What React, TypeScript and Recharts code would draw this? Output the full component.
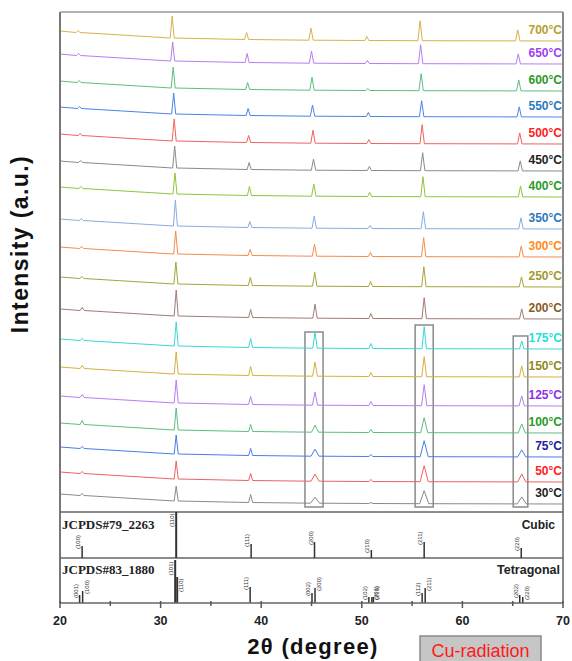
import React from 'react';
import { ComposedChart, Line, XAxis, YAxis, ReferenceLine, ReferenceArea, ReferenceDot } from 'recharts';

// ---------- data ----------
const TEMPS = ['700°C', '650°C', '600°C', '550°C', '500°C', '450°C', '400°C', '350°C', '300°C', '250°C', '200°C', '175°C', '150°C', '125°C', '100°C', '75°C', '50°C', '30°C'];
// stacking offset of each pattern (intensity units, a.u.)
const OFFSET = [562, 539, 512, 486, 459, 432, 406, 374, 346, 316, 284, 254, 226, 197, 170, 146, 121, 99];
// reflection positions (2θ) and background level under each reflection
const PEAK_POS = [22.2, 31.55, 38.95, 45.35, 50.9, 56.2, 65.9];
const PEAK_BASE = [8.5, 3, 1.5, 0.8, 0.5, 0.3, 0.1];
const START_BASE = 10;
const END_BASE = 0;
// peak heights above background: (100) (110) (111) (200) (210) (211) (220)
const HEIGHTS = [
  [2, 22, 7, 12, 4, 20, 11],
  [2, 19, 9, 12, 3, 19, 10],
  [2, 21, 7, 13, 2, 17, 11],
  [2, 21, 7, 11, 4, 16, 10],
  [2, 22, 7, 13, 4, 19, 11],
  [2, 22, 7, 11, 4, 18, 10],
  [2, 21, 9, 12, 4, 20, 11],
  [2, 26, 6, 12, 3, 17, 11],
  [2, 23, 6, 12, 4, 19, 11],
  [2, 22, 8, 14, 5, 20, 10],
  [3, 26, 8, 14, 5, 21, 10],
  [2, 24, 9, 16, 5, 22, 8],
  [3, 22, 9, 14, 4, 20, 11],
  [3, 23, 8, 13, 4, 21, 10],
  [4, 22, 7, 7, 3, 15, 9],
  [2, 19, 7, 7, 2, 16, 7],
  [2, 18, 7, 7, 2, 16, 8],
  [2, 15, 8, 6, 1, 13, 7],
];
// peak shift (2θ) and half width (2θ) of the (200)/(211)/(220) reflections of each pattern
const SHIFT = [-0.4, -0.35, -0.3, -0.25, -0.2, -0.15, -0.12, -0.08, -0.05, -0.03, 0, 0, 0, 0, 0, 0, 0, 0];
const HALF_WIDTH = [0.22, 0.22, 0.22, 0.22, 0.22, 0.22, 0.22, 0.22, 0.22, 0.22, 0.22, 0.22, 0.24, 0.26, 0.35, 0.4, 0.4, 0.45];
const NARROW_WIDTH = 0.2;

// reference cards
const CUBIC_POS = [22.2, 31.55, 39.0, 45.3, 50.95, 56.2, 65.85];
const CUBIC_H = [12, 46, 14, 16, 8, 16, 10];
const CUBIC_HKL = ['(100)', '(110)', '(111)', '(200)', '(210)', '(211)', '(220)'];
const TET_POS = [21.95, 22.25, 31.45, 31.65, 38.9, 45.05, 45.35, 50.7, 51.0, 51.15, 56.0, 56.3, 65.7, 66.0];
const TET_H = [8, 12, 43, 26, 16, 10, 15, 6, 6, 6, 10, 15, 8, 6];
const TET_HKL = ['(001)', '(100)', '(101)', '(110)', '(111)', '(002)', '(200)', '(102)', '(201)', '(210)', '(112)', '(211)', '(202)', '(220)'];

const X_TICKS = [20, 25, 30, 35, 40, 45, 50, 55, 60, 65, 70];

// ---------- styles ----------
const LINE_COLORS = ['#d8b24a', '#b77ef0', '#5cbf7d', '#4a84e8', '#f0625f', '#8a8a8a', '#8dc63f', '#86aee0', '#f58c4b', '#a8a43a', '#a07c74', '#3dd6d6', '#d6b040', '#b87ef0', '#5cbf7d', '#4a7de8', '#f06060', '#8a8a8a'];
const LABEL_COLORS = ['#b5a232', '#a040f0', '#2a9a2a', '#2a7ac0', '#ff2020', '#222222', '#2a9a2a', '#2a7ac0', '#ff8c1a', '#a09a30', '#8b5a2b', '#20e0e0', '#8f8a20', '#9030f0', '#2a9a2a', '#2020a0', '#ff2020', '#222222'];
const CUBIC_SIDE = ['L', 'L', 'L', 'L', 'L', 'L', 'L'];
const TET_SIDE = ['L', 'R', 'L', 'R', 'L', 'L', 'R', 'L', 'R', 'R', 'L', 'R', 'L', 'R'];
const SANS = '"Liberation Sans", Arial, sans-serif';
const SERIF = '"Liberation Serif", "Times New Roman", serif';
const Y_TOP = 591;
const MAIN_BOTTOM = 91;
const TET_TOP = 45;

const BOXES = [
  { x1: 44.35, x2: 46.15, y1: 96, y2: 271 },
  { x1: 55.3, x2: 57.1, y1: 96, y2: 278 },
  { x1: 65.05, x2: 66.5, y1: 96, y2: 267 },
];

const traces = TEMPS.map((_, i) => {
  const pts: { x: number; y: number }[] = [{ x: 20, y: OFFSET[i] + START_BASE }];
  PEAK_POS.forEach((p, k) => {
    const c = p + SHIFT[i];
    const b = OFFSET[i] + PEAK_BASE[k];
    const w = k === 3 || k === 5 || k === 6 ? HALF_WIDTH[i] : NARROW_WIDTH;
    pts.push({ x: c - w, y: b }, { x: c, y: b + HEIGHTS[i][k] }, { x: c + w, y: b });
  });
  pts.push({ x: 70, y: OFFSET[i] + END_BASE });
  return pts;
});

const TempLabel = (props: any) => {
  const { viewBox, labelText, labelColor } = props;
  const x = viewBox.x + (viewBox.width || 0) / 2;
  const y = viewBox.y + (viewBox.height || 0) / 2;
  return (
    <text x={x - 1} y={y + 4.3} textAnchor="end" fill={labelColor} fontSize={12} fontWeight="bold" fontFamily={SANS}>
      {labelText}
    </text>
  );
};

const HklLabel = (props: any) => {
  const { viewBox, labelText, side, tall } = props;
  const sx = viewBox.x;
  const top = viewBox.y;
  const bx = side === 'L' ? sx - 2 : sx + 6;
  const by = tall ? top + 1.5 : top + 3;
  return (
    <text
      transform={`translate(${bx},${by}) rotate(-90)`}
      textAnchor={tall ? 'end' : 'start'}
      fontSize={6}
      fill="#333"
      fontFamily={SANS}
    >
      {labelText}
    </text>
  );
};

const XTick = (props: any) => {
  const { x, y, payload } = props;
  const v = payload.value;
  const major = v % 10 === 0;
  return (
    <g>
      <line x1={x} x2={x} y1={y - 2} y2={y + (major ? 5 : 3)} stroke="#555" strokeWidth={1.5} />
      {major && (
        <text x={x} y={y + 21.5} textAnchor="middle" fontSize={12.5} fontWeight="bold" fill="#222" fontFamily={SANS}>
          {v}
        </text>
      )}
    </g>
  );
};

export default function App() {
  return (
    <div style={{ position: 'absolute', left: 0, top: 0, width: 572, height: 661, background: '#fff' }}>
      <ComposedChart width={572} height={661} margin={{ top: 12, right: 9, bottom: 28, left: 60 }}>
        <XAxis
          type="number"
          dataKey="x"
          domain={[20, 70]}
          ticks={X_TICKS}
          interval={0}
          allowDataOverflow
          tick={<XTick />}
          tickLine={false}
          tickSize={0}
          tickMargin={0}
          axisLine={{ stroke: '#666', strokeWidth: 1.5 }}
          height={30}
        />
        <YAxis type="number" domain={[0, Y_TOP]} allowDataOverflow hide />

        {BOXES.map((b, i) => (
          <ReferenceArea key={'box' + i} x1={b.x1} x2={b.x2} y1={b.y1} y2={b.y2} fill="none" stroke="#8a8a8a" strokeWidth={1.5} ifOverflow="visible" />
        ))}

        {traces.map((d, i) => (
          <Line
            key={TEMPS[i]}
            data={d}
            dataKey="y"
            type="linear"
            stroke={LINE_COLORS[i]}
            strokeWidth={1}
            dot={false}
            activeDot={false}
            isAnimationActive={false}
          />
        ))}

        {TEMPS.map((t, i) => (
          <ReferenceDot
            key={'lab' + t}
            x={70}
            y={OFFSET[i] + 11}
            r={1}
            fill="none"
            stroke="none"
            ifOverflow="visible"
            label={<TempLabel labelText={t} labelColor={LABEL_COLORS[i]} />}
          />
        ))}

        {/* frame */}
        <ReferenceLine x={20} stroke="#777" strokeWidth={2} ifOverflow="visible" />
        <ReferenceLine x={70} stroke="#888" strokeWidth={2} ifOverflow="visible" />
        <ReferenceLine y={Y_TOP} stroke="#999" strokeWidth={1.5} ifOverflow="visible" />
        <ReferenceLine y={MAIN_BOTTOM} stroke="#666" strokeWidth={1.5} ifOverflow="visible" />
        <ReferenceLine y={TET_TOP} stroke="#666" strokeWidth={1.5} ifOverflow="visible" />

        {CUBIC_POS.map((p, i) => (
          <ReferenceLine
            key={'c' + i}
            segment={[{ x: p, y: TET_TOP }, { x: p, y: TET_TOP + CUBIC_H[i] }]}
            stroke="#333"
            strokeWidth={CUBIC_H[i] > 20 ? 2 : 1.5}
            ifOverflow="visible"
            label={<HklLabel labelText={CUBIC_HKL[i]} side={CUBIC_SIDE[i]} tall={CUBIC_H[i] > 20} />}
          />
        ))}
        {TET_POS.map((p, i) => (
          <ReferenceLine
            key={'t' + i}
            segment={[{ x: p, y: 0 }, { x: p, y: TET_H[i] }]}
            stroke="#333"
            strokeWidth={TET_H[i] > 20 ? 2 : 1.5}
            ifOverflow="visible"
            label={<HklLabel labelText={TET_HKL[i]} side={TET_SIDE[i]} tall={TET_H[i] > 20} />}
          />
        ))}
      </ComposedChart>

      <svg width={572} height={661} style={{ position: 'absolute', left: 0, top: 0, pointerEvents: 'none' }}>
        <text transform="translate(28,244) rotate(-90)" textAnchor="middle" fontSize={23} fontWeight="bold" letterSpacing={1.4} fill="#111" fontFamily={SANS}>
          Intensity (a.u.)
        </text>
        <text x={313} y={654} textAnchor="middle" fontSize={22} fontWeight="bold" letterSpacing={1.3} fill="#111" fontFamily={SANS}>
          2θ (degree)
        </text>
        <rect x={420} y={636} width={121} height={30} fill="#c6c6c6" stroke="#8a8a8a" strokeWidth={1.5} />
        <text x={480.5} y={657} textAnchor="middle" fontSize={18} fill="#ff1a1a" fontFamily={SANS}>
          Cu-radiation
        </text>
        <text x={62} y={528.5} fontSize={13} fontWeight="bold" fill="#222" fontFamily={SERIF}>
          JCPDS#79_2263
        </text>
        <text x={62} y={573.5} fontSize={13} fontWeight="bold" fill="#222" fontFamily={SERIF}>
          JCPDS#83_1880
        </text>
        <text x={555} y={528.5} textAnchor="end" fontSize={12} fontWeight="bold" fill="#222" fontFamily={SANS}>
          Cubic
        </text>
        <text x={560} y={573.5} textAnchor="end" fontSize={12.5} fontWeight="bold" fill="#222" fontFamily={SANS}>
          Tetragonal
        </text>
      </svg>
    </div>
  );
}
